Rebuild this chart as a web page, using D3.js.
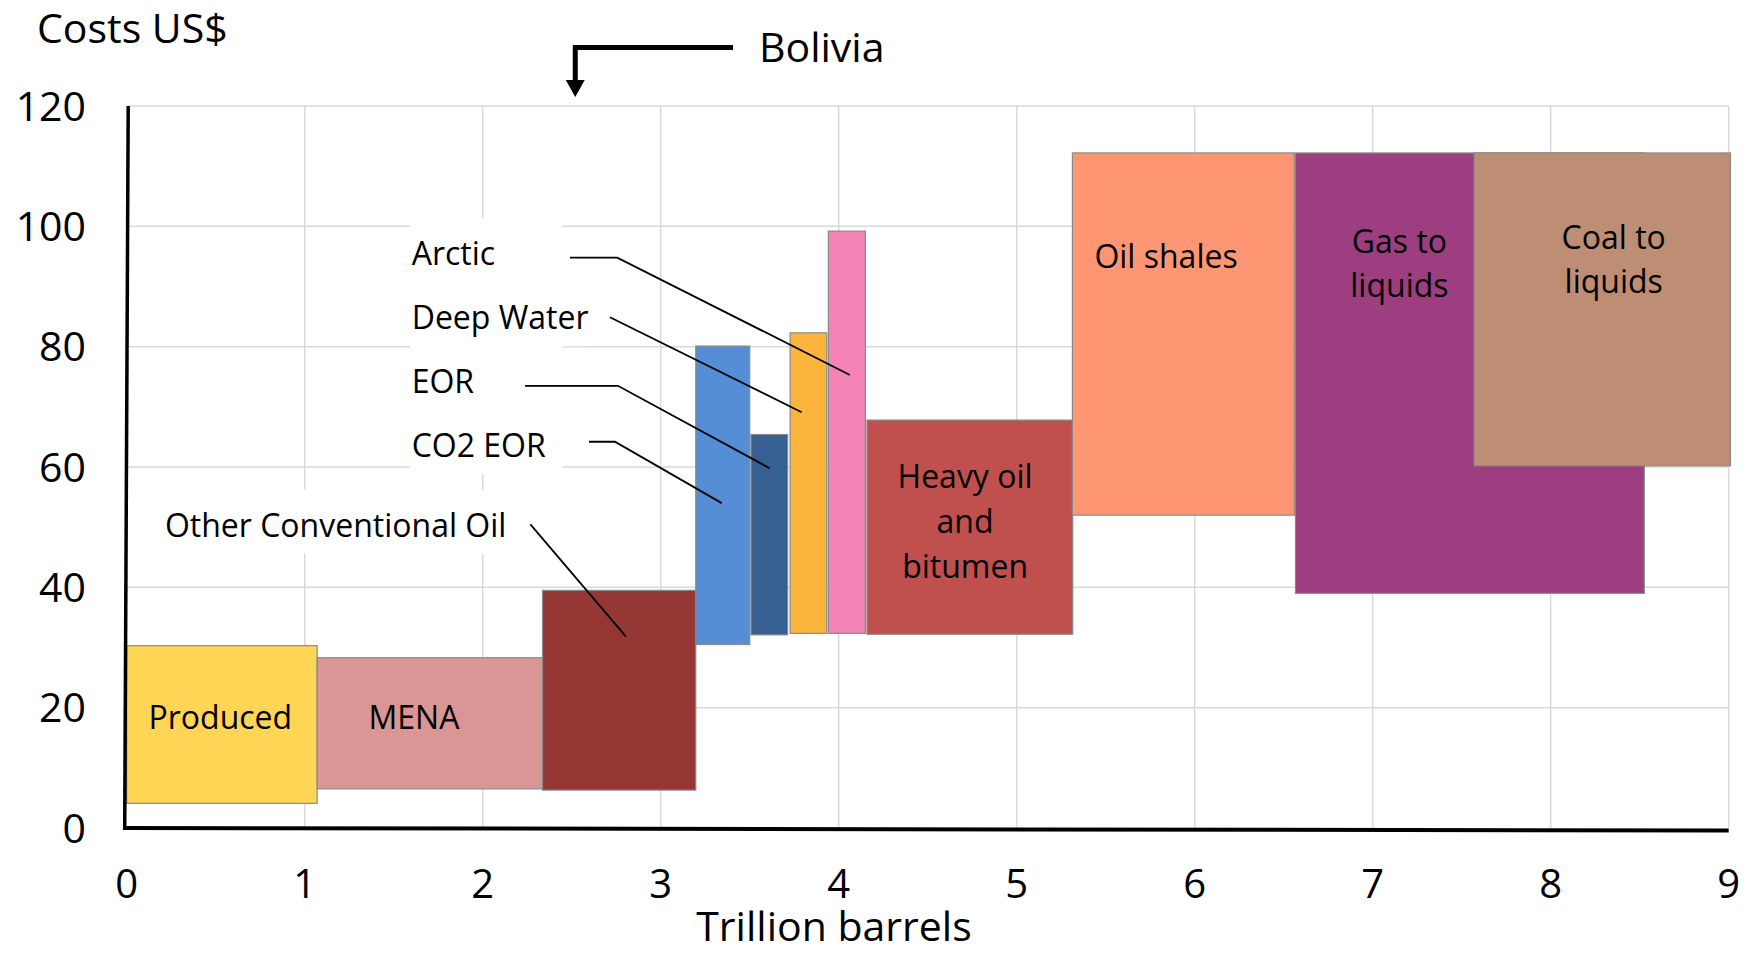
<!DOCTYPE html>
<html>
<head>
<meta charset="utf-8">
<script src="https://cdn.jsdelivr.net/npm/d3@7"></script>
<style>
  html, body { margin: 0; padding: 0; background: #fff; }
  svg { display: block; font-family: "Open Sans", "Noto Sans", sans-serif; }
</style>
</head>
<body>
<svg id="chart" width="1749" height="953"></svg>
<script>
// Oil supply cost curve: each resource is a block spanning its cumulative
// volume (trillion barrels) and its production cost range (US$ per barrel).
const categories = ["Produced", "MENA", "Other Conventional Oil", "CO2 EOR", "EOR",
  "Deep Water", "Arctic", "Heavy oil and bitumen", "Oil shales", "Gas to liquids", "Coal to liquids"];
const volumeStart = [0, 1.07, 2.336, 3.197, 3.507, 3.727, 3.942, 4.159, 5.313, 6.566, 7.57];
const volumeEnd   = [1.07, 2.336, 3.197, 3.50, 3.713, 3.933, 4.15, 5.315, 6.56, 8.526, 9.01];
const costLow     = [4.1, 6.5, 6.3, 30.5, 32.1, 32.35, 32.35, 32.2, 52.0, 39.0, 60.2];
const costHigh    = [30.3, 28.3, 39.5, 80.1, 65.4, 82.3, 99.2, 67.8, 112.2, 112.2, 112.2];
const colors = ["#FFD556", "#D99694", "#953735", "#558ED5", "#376092",
  "#FDB43D", "#F384B5", "#C0504D", "#FF9673", "#9D3E80", "#BE8E74"];

const xTicks = [0, 1, 2, 3, 4, 5, 6, 7, 8, 9];
const yTicks = [0, 20, 40, 60, 80, 100, 120];
const boliviaVolume = 2.52;

const svg = d3.select("#chart");
const x = d3.scaleLinear().domain([0, 9]).range([126.7, 1728.7]);
const y = d3.scaleLinear().domain([0, 120]).range([828, 106]);

const blocks = categories.map((name, i) => ({
  name, x0: volumeStart[i], x1: volumeEnd[i], y0: costLow[i], y1: costHigh[i], color: colors[i]
}));

// gridlines
const grid = svg.append("g").attr("stroke", "#d9d9d9").attr("stroke-width", 1.5);
grid.selectAll("line.v").data(xTicks.filter(d => d > 0)).join("line")
  .attr("x1", d => x(d)).attr("x2", d => x(d))
  .attr("y1", y(120)).attr("y2", y(0));
grid.selectAll("line.h").data(yTicks.filter(d => d > 0)).join("line")
  .attr("x1", x(0)).attr("x2", x(9))
  .attr("y1", d => y(d)).attr("y2", d => y(d));

// callout labels with white boxes and leader lines
const callouts = [
  { text: "Arctic", at: [1.601, 93.6], path: [[2.490, 94.8], [2.756, 94.8], [4.063, 75.3]] },
  { text: "Deep Water", at: [1.601, 82.9], path: [[2.715, 84.9], [3.792, 69.1]] },
  { text: "EOR", at: [1.601, 72.3], path: [[2.238, 73.5], [2.760, 73.5], [3.612, 59.8]] },
  { text: "CO2 EOR", at: [1.601, 61.7], path: [[2.597, 64.2], [2.743, 64.2], [3.343, 54.0]] },
  { text: "Other Conventional Oil", at: [0.2146, 48.4], path: [[2.268, 50.47], [2.805, 31.8]] }
];

const calloutG = svg.append("g");
callouts.forEach(c => {
  const g = calloutG.append("g");
  const rect = g.append("rect").attr("fill", "#fff");
  const t = g.append("text")
    .attr("x", x(c.at[0])).attr("y", y(c.at[1]))
    .attr("font-size", 32).attr("fill", "#000").text(c.text);
  const bb = t.node().getBBox();
  rect.attr("x", bb.x - 2).attr("y", y(c.at[1]) - 47)
    .attr("width", Math.max(bb.width + 4, 153)).attr("height", 64);
});

// blocks
svg.append("g").selectAll("rect").data(blocks).join("rect")
  .attr("x", d => x(d.x0)).attr("width", d => x(d.x1) - x(d.x0))
  .attr("y", d => y(d.y1)).attr("height", d => y(d.y0) - y(d.y1))
  .attr("fill", d => d.color)
  .attr("stroke", "#8a8a8a").attr("stroke-width", 1.2);

// leader lines drawn above the blocks
const line = d3.line().x(d => x(d[0])).y(d => y(d[1]));
svg.append("g").selectAll("path").data(callouts).join("path")
  .attr("d", d => line(d.path))
  .attr("fill", "none").attr("stroke", "#000").attr("stroke-width", 1.8);

// labels inside blocks
const inner = [
  { lines: ["Produced"], at: [0.526, 16.4] },
  { lines: ["MENA"], at: [1.614, 16.45] },
  { lines: ["Heavy oil", "and", "bitumen"], at: [4.71, 56.5], lh: 45 },
  { lines: ["Oil shales"], at: [5.839, 93.0] },
  { lines: ["Gas to", "liquids"], at: [7.15, 95.5], lh: 44 },
  { lines: ["Coal to", "liquids"], at: [8.354, 96.3], lh: 44 }
];
const innerG = svg.append("g").attr("font-size", 32).attr("fill", "#000").attr("text-anchor", "middle");
inner.forEach(l => {
  const t = innerG.append("text").attr("x", x(l.at[0])).attr("y", y(l.at[1]));
  l.lines.forEach((s, i) => {
    t.append("tspan").attr("x", x(l.at[0])).attr("dy", i === 0 ? 0 : l.lh).text(s);
  });
});

// axis lines
svg.append("line")
  .attr("x1", x(0) + 1.5).attr("y1", y(120))
  .attr("x2", x(0) - 2).attr("y2", y(0) + 2)
  .attr("stroke", "#000").attr("stroke-width", 3.5);
svg.append("line")
  .attr("x1", x(0) - 3.5).attr("y1", y(0))
  .attr("x2", x(9)).attr("y2", y(0) + 2.5)
  .attr("stroke", "#000").attr("stroke-width", 4);

// tick labels
svg.append("g").attr("font-size", 41).attr("text-anchor", "end")
  .selectAll("text").data(yTicks).join("text")
  .attr("x", 86).attr("y", d => y(d) + 14.5).text(d => d);
svg.append("g").attr("font-size", 40).attr("text-anchor", "middle")
  .selectAll("text").data(xTicks).join("text")
  .attr("x", d => x(d)).attr("y", 898).text(d => d);

// axis titles
svg.append("text").attr("x", 37).attr("y", 43).attr("font-size", 41).text("Costs US$");
svg.append("text").attr("x", 834).attr("y", 941).attr("font-size", 41)
  .attr("text-anchor", "middle").text("Trillion barrels");

// Bolivia marker arrow
const bx = x(boliviaVolume);
svg.append("path")
  .attr("d", `M${733},${47.5} H${bx} V${84}`)
  .attr("fill", "none").attr("stroke", "#000").attr("stroke-width", 5)
  .attr("stroke-linejoin", "miter");
svg.append("path")
  .attr("d", `M${bx - 9.5},${80} L${bx + 9.5},${80} L${bx},${97} Z`)
  .attr("fill", "#000");
svg.append("text").attr("x", 759).attr("y", 61.7).attr("font-size", 41).text("Bolivia");
</script>
</body>
</html>
